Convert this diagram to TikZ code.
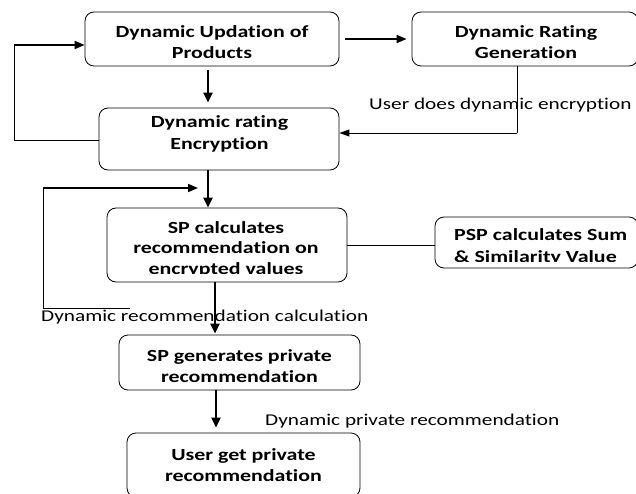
\documentclass[tikz,border=0pt]{standalone}
\usepackage{fontspec}
\setmainfont{Carlito}[FakeStretch=1.29,Ligatures=NoCommon]
\usetikzlibrary{arrows.meta}
\begin{document}
\begin{tikzpicture}[x=1pt,y=-1pt,
  box/.style={draw, rounded corners=9pt, line width=0.8pt, inner sep=0pt},
  btext/.style={font=\bfseries\fontsize{17}{21.5}\selectfont, align=center, inner sep=0pt},
  ltext/.style={font=\bfseries\fontsize{17}{21.5}\selectfont, align=left, inner sep=0pt},
  lbl/.style={font=\fontsize{16.5}{20}\selectfont, inner sep=0pt, anchor=west},
  bigarrow/.style={line width=2.6pt, -{Triangle[length=10pt,width=9pt]}},
  midarrow/.style={line width=1.8pt, -{Triangle[length=10pt,width=8pt]}},
  thinline/.style={line width=0.9pt},
  thinarrow/.style={line width=0.9pt, -{Triangle[length=10pt,width=7pt]}}]
\useasboundingbox (0,0) rectangle (636,494);
\fill[white] (0,0) rectangle (636,494);

% boxes
\node[box, minimum width=254pt, minimum height=54pt] (b1) at (212,39) {};
\node[btext] (t1) at (212,42) {Dynamic Updation of\\Products};

\node[box, minimum width=226pt, minimum height=54pt] (b2) at (525,39) {};
\node[btext] (t2) at (526,42) {Dynamic Rating\\Generation};

\node[box, minimum width=240pt, minimum height=62pt] (b3) at (219,139) {};
\node[btext] (t3) at (219.5,134) {Dynamic rating\\Encryption};

\node[box, minimum width=240pt, minimum height=74pt] (b4) at (227,245) {};
\begin{scope}
\clip (100,200) rectangle (360,273.5);
\node[btext, font=\bfseries\fontsize{17}{20.5}\selectfont] (t4) at (226,249) {SP calculates\\recommendation on\\encrypted values};
\end{scope}

\node[box, minimum width=203pt, minimum height=51pt] (b5) at (536.5,242.5) {};
\begin{scope}
\clip (440,220) rectangle (636,261);
\node[ltext, anchor=west] (t5) at (454,247) {PSP calculates Sum\\\& Similarity Value};
\end{scope}

\node[box, minimum width=241pt, minimum height=55pt] (b6) at (239.5,362.5) {};
\node[btext, font=\bfseries\fontsize{17}{20.5}\selectfont] (t6) at (239.5,366) {SP generates private\\recommendation};

\node[box, minimum width=233pt, minimum height=64pt] (b7) at (243.5,465) {};
\node[btext] (t7) at (243.5,465) {User get private\\recommendation};

% labels
\node[lbl] (l1) at (369,105) {User does dynamic encryption};
\node[lbl] (l2) at (41,317) {Dynamic recommendation calculation};
\node[lbl] (l3) at (265,421) {Dynamic private recommendation};

% coordinates
\coordinate (c1a) at (14,140);
\coordinate (c1b) at (14,45);
\coordinate (c2) at (517,133);
\coordinate (c3a) at (130,308);
\coordinate (c3b) at (43,308);
\coordinate (c3c) at (43,188);
\coordinate (c3d) at (198,188);

% connectors
\draw[midarrow] ([xshift=6pt]b1.east) -- ([xshift=-5pt]b2.west);
\draw[bigarrow] ([xshift=-4pt,yshift=-4pt]b1.south) -- ([xshift=-11pt,yshift=5pt]b3.north);
\draw[thinline] ([yshift=-1pt]b3.west) -- (c1a) -- (c1b);
\draw[midarrow] (c1b) -- (c1b -| b1.west);
\draw[thinline] ([xshift=-8pt]b2.south) -- (c2);
\draw[thinarrow] (c2) -- (c2 -| b3.east);
\draw[bigarrow] ([xshift=-11pt]b3.south) -- ([xshift=-19pt]b4.north);
\draw[thinline] (c3a) -- (c3b) -- (c3c);
\draw[midarrow] (c3c) -- (c3d);
\draw[bigarrow] ([xshift=-12pt]b4.south) -- ([xshift=-24.5pt,yshift=1pt]b6.north);
\draw[thinline] (b4.east) -- (b4.east -| b5.west);
\draw[bigarrow] ([xshift=-23.5pt]b6.south) -- ([xshift=-27.5pt,yshift=5pt]b7.north);
\end{tikzpicture}
\end{document}
